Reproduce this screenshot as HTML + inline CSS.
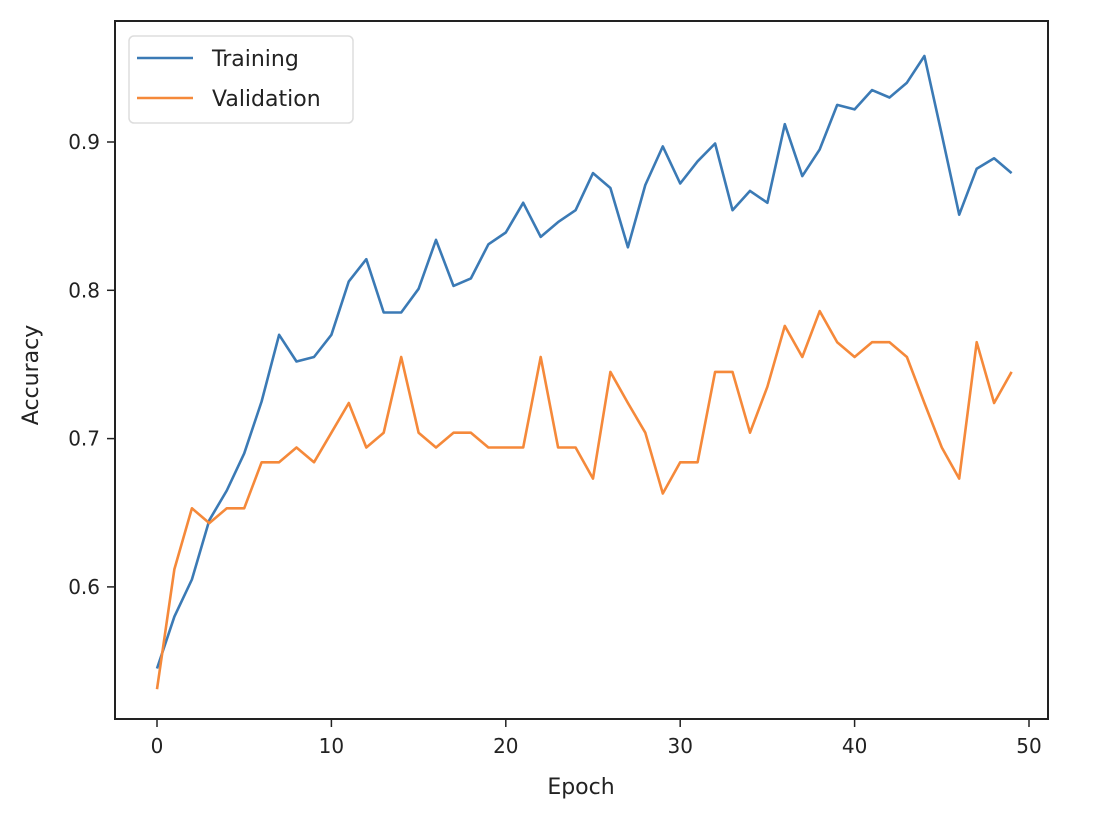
<!DOCTYPE html>
<html><head><meta charset="utf-8"><style>
body{margin:0;background:#fff;}
svg text{font-family:"DejaVu Sans","Liberation Sans",sans-serif;fill:#222;}
</style></head><body>
<svg id="s" width="1096" height="808" xmlns="http://www.w3.org/2000/svg">
<rect x="0" y="0" width="1096" height="808" fill="#fff"/>
<g id="ticks"></g>
<polyline id="tr" fill="none" stroke="#3b7ab5" stroke-width="2.6" stroke-linejoin="round"/>
<polyline id="va" fill="none" stroke="#f5893a" stroke-width="2.6" stroke-linejoin="round"/>
<rect x="115" y="21" width="933" height="698" fill="none" stroke="#222" stroke-width="2"/>
<rect x="129" y="36" width="224" height="87" rx="5" fill="#fff" fill-opacity="0.85" stroke="#ddd" stroke-width="1.5"/>
<line x1="137" y1="58" x2="193" y2="58" stroke="#3b7ab5" stroke-width="2.6"/>
<line x1="137" y1="98" x2="193" y2="98" stroke="#f5893a" stroke-width="2.6"/>
<text x="212" y="66" font-size="22">Training</text>
<text x="212" y="106" font-size="22">Validation</text>
<text x="581" y="794" font-size="22" text-anchor="middle">Epoch</text>
<text x="38" y="375" font-size="22" text-anchor="middle" transform="rotate(-90 38 375)">Accuracy</text>
</svg>
<script>
var T=[0.545,0.58,0.605,0.645,0.665,0.69,0.725,0.77,0.752,0.755,0.77,0.806,0.821,0.785,0.785,0.801,0.834,0.803,0.808,0.831,0.839,0.859,0.836,0.846,0.854,0.879,0.869,0.829,0.871,0.897,0.872,0.887,0.899,0.854,0.867,0.859,0.912,0.877,0.895,0.925,0.922,0.935,0.930,0.940,0.958,0.905,0.851,0.882,0.889,0.879];
var V=[0.531,0.612,0.653,0.643,0.653,0.653,0.684,0.684,0.694,0.684,0.704,0.724,0.694,0.704,0.755,0.704,0.694,0.704,0.704,0.694,0.694,0.694,0.755,0.694,0.694,0.673,0.745,0.724,0.704,0.663,0.684,0.684,0.745,0.745,0.704,0.735,0.776,0.755,0.786,0.765,0.755,0.765,0.765,0.755,0.724,0.694,0.673,0.765,0.724,0.745];
function X(i){return 157+i*17.44;}function Y(v){return 142+(0.9-v)*1483;}
function pts(a){return a.map(function(v,i){return X(i).toFixed(1)+","+Y(v).toFixed(1);}).join(" ");}
document.getElementById("tr").setAttribute("points",pts(T));
document.getElementById("va").setAttribute("points",pts(V));
var g=document.getElementById("ticks"),h="";
for(var e=0;e<=50;e+=10){var x=X(e);h+='<line x1="'+x+'" y1="719" x2="'+x+'" y2="727" stroke="#222" stroke-width="1.5"/><text x="'+x+'" y="753" font-size="20" text-anchor="middle">'+e+'</text>';}
[0.6,0.7,0.8,0.9].forEach(function(v){var y=Y(v);h+='<line x1="107" y1="'+y+'" x2="115" y2="'+y+'" stroke="#222" stroke-width="1.5"/><text x="100" y="'+(y+7)+'" font-size="20" text-anchor="end">'+v.toFixed(1)+'</text>';});
g.innerHTML=h;
</script>
</body></html>
